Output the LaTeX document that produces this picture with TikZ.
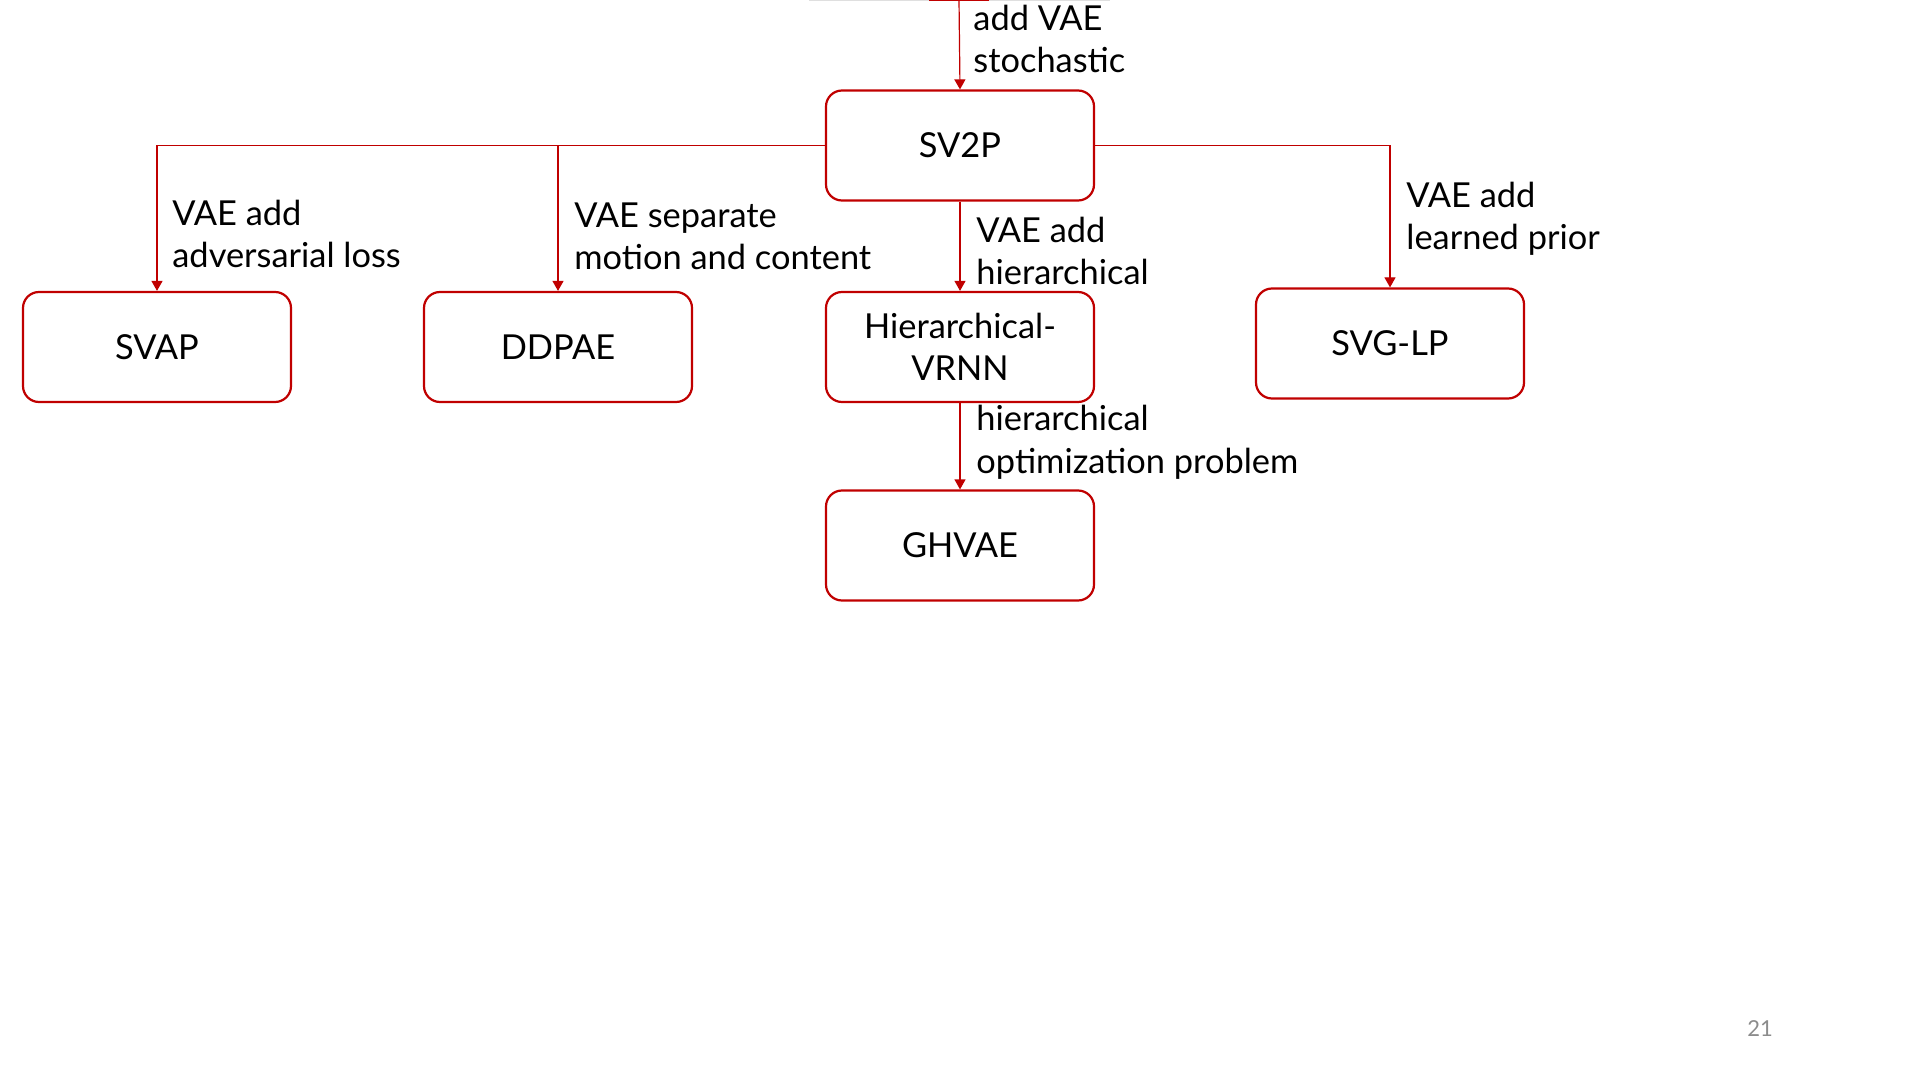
\documentclass[tikz,border=0pt]{standalone}
\usepackage{fontspec}
\setmainfont{Lato}
\usetikzlibrary{arrows.meta}
\definecolor{myred}{RGB}{192,0,0}
\definecolor{pagegray}{RGB}{140,140,140}
\tikzset{
  mainfont/.style={font=\fontsize{17.2pt}{21pt}\selectfont},
  modelbox/.style={draw=myred, line width=1.1pt, rounded corners=8pt,
    minimum width=134pt, minimum height=55pt, inner sep=0pt,
    align=center, mainfont, text=black},
  conn/.style={draw=myred, line width=0.6pt, -{Triangle[length=5pt,width=5.5pt]}},
  lbl/.style={anchor=base west, inner sep=0pt, align=left, mainfont, text=black}
}
\begin{document}
\begin{tikzpicture}[x=0.5pt,y=-0.5pt]
\useasboundingbox (0,0) rectangle (1920,1080);
% cut-off shape at the top edge
\draw[gray!25, line width=0.6pt] (809,0.6) -- (1110,0.6);
\draw[myred, line width=0.8pt] (929,0.6) -- (989,0.6);

\node[modelbox] (sv2p)  at (960,145.5) {SV2P};
\node[modelbox] (svap)  at (157,347) {SVAP};
\node[modelbox] (ddpae) at (558,347) {DDPAE};
\node[modelbox] (hvrnn) at (960,347) {Hierarchical-\\VRNN};
\node[modelbox] (svglp) at (1390,343.5) {SVG-LP};
\node[modelbox] (ghvae) at (960,545.5) {GHVAE};

\coordinate (topin) at (959,0);
\draw[conn] (topin) -- (sv2p.north);
\draw[conn] (sv2p.west) -| (svap.north);
\draw[conn] (sv2p.west) -| (ddpae.north);
\draw[conn] (sv2p.east) -| (svglp.north);
\draw[conn] (sv2p.south) -- (hvrnn.north);
\draw[conn] (hvrnn.south) -- (ghvae.north);

\node[lbl] (l0) at (973,73) {add VAE\\stochastic};
\node[lbl] (l1) at (172,268) {VAE add\\adversarial loss};
\node[lbl] (l2) at (574,270) {VAE separate\\motion and content};
\node[lbl] (l3) at (976,285) {VAE add\\hierarchical};
\node[lbl] (l4) at (1406,250) {VAE add\\learned prior};
\node[lbl] (l5) at (976,473) {hierarchical\\optimization problem};

\node[font=\fontsize{11pt}{13pt}\selectfont, text=pagegray] (pg) at (1760,1029) {21};
\end{tikzpicture}
\end{document}
